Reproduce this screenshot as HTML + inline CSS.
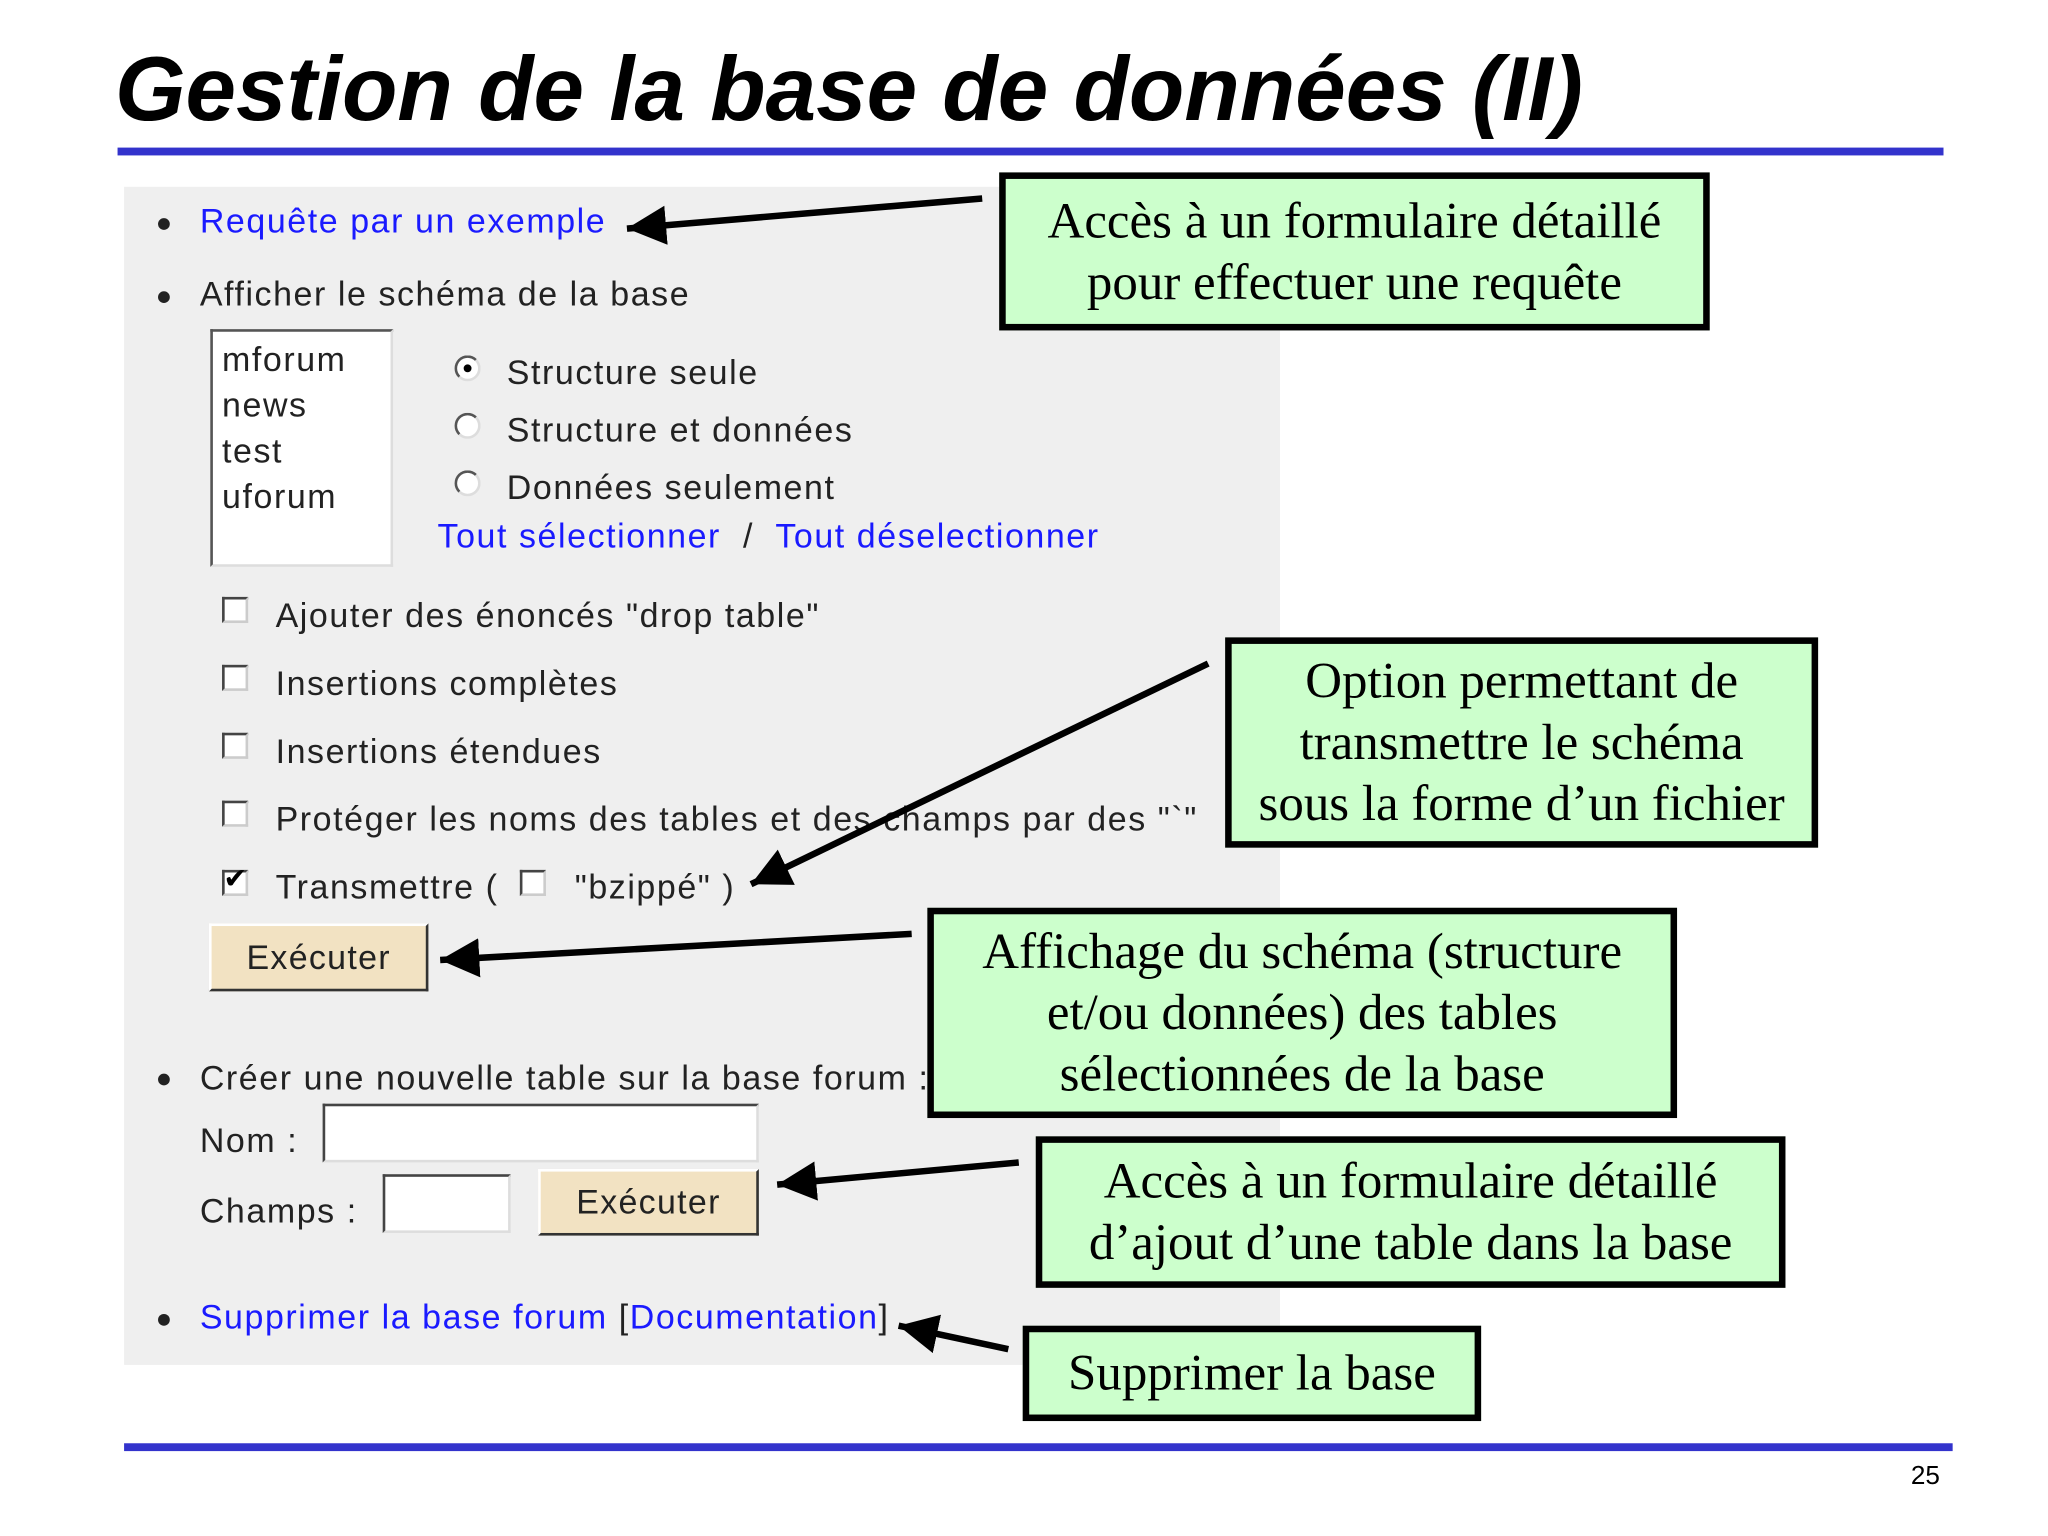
<!DOCTYPE html>
<html><head><meta charset="utf-8"><style>
body{margin:0;background:#fff;width:2048px;height:1536px;overflow:hidden}
#s{position:absolute;left:0;top:0;width:1568px;height:1176px;transform:scale(1.30612);transform-origin:0 0;font-family:"Liberation Sans",sans-serif}
.a{position:absolute;white-space:nowrap}
.f{font-size:26px;color:#222;letter-spacing:1.2px}
.l{color:#1a1aff}
.box{position:absolute;background:#ccffcc;border:5px solid #000;box-sizing:border-box;font-family:"Liberation Serif",serif;font-size:39px;text-align:center;line-height:47px;color:#000;display:flex;align-items:center;justify-content:center}
.cb{position:absolute;width:20px;height:20px;border:2px solid #444;border-right-color:#ccc;border-bottom-color:#ccc;background:#fff;box-sizing:border-box}
.rd{position:absolute;width:20px;height:20px;border-radius:50%;border:2px solid #555;border-right-color:#ddd;border-bottom-color:#ddd;background:#fff;box-sizing:border-box}
.btn{position:absolute;background:#f2e2c2;border:2px solid #fff;border-right-color:#333;border-bottom-color:#333;box-sizing:border-box;font-size:26px;color:#222;text-align:center;letter-spacing:1px}
.dot{position:absolute;width:9px;height:9px;border-radius:50%;background:#222}
</style></head><body><div id="s">
<div class="a" style="left:88px;top:28px;font-size:69.5px;font-weight:bold;font-style:italic;color:#000">Gestion de la base de données (II)</div>
<div class="a" style="left:90px;top:113px;width:1398px;height:6px;background:#3333cc"></div>
<div class="a" style="left:95px;top:143px;width:885px;height:902px;background:#efefef"></div>

<div class="dot" style="left:121px;top:167px"></div>
<div class="a f l" style="left:153px;top:154px">Requête par un exemple</div>
<div class="dot" style="left:121px;top:223px"></div>
<div class="a f" style="left:153px;top:210px">Afficher le schéma de la base</div>
<div class="a" style="left:161px;top:252px;width:140px;height:182px;background:#fff;border:2px solid #555;border-right-color:#ddd;border-bottom-color:#ddd;box-sizing:border-box"></div>
<div class="a f" style="left:170px;top:258px;line-height:35px">mforum<br>news<br>test<br>uforum</div>
<div class="rd" style="left:348px;top:272px"></div><div class="a" style="left:355px;top:279px;width:6px;height:6px;border-radius:50%;background:#000"></div>
<div class="a f" style="left:388px;top:270px">Structure seule</div>
<div class="rd" style="left:348px;top:316px"></div>
<div class="a f" style="left:388px;top:314px">Structure et données</div>
<div class="rd" style="left:348px;top:360px"></div>
<div class="a f" style="left:388px;top:358px">Données seulement</div>
<div class="a f" style="left:335px;top:395px"><span class="l">Tout sélectionner</span> &nbsp;/&nbsp; <span class="l">Tout déselectionner</span></div>
<div class="cb" style="left:170px;top:457px"></div><div class="a f" style="left:211px;top:456px">Ajouter des énoncés "drop table"</div>
<div class="cb" style="left:170px;top:509px"></div><div class="a f" style="left:211px;top:508px">Insertions complètes</div>
<div class="cb" style="left:170px;top:561px"></div><div class="a f" style="left:211px;top:560px">Insertions étendues</div>
<div class="cb" style="left:170px;top:613px"></div><div class="a f" style="left:211px;top:612px">Protéger les noms des tables et des champs par des "`"</div>
<div class="cb" style="left:170px;top:666px"></div><div class="a" style="left:171px;top:660px;font-size:22px;color:#000">✔</div>
<div class="a f" style="left:211px;top:664px">Transmettre (</div>
<div class="cb" style="left:398px;top:666px"></div>
<div class="a f" style="left:440px;top:664px">"bzippé" )</div>
<div class="btn" style="left:160px;top:707px;width:168px;height:52px;line-height:48px">Exécuter</div>
<div class="dot" style="left:121px;top:822px"></div>
<div class="a f" style="left:153px;top:810px">Créer une nouvelle table sur la base forum :</div>
<div class="a f" style="left:153px;top:858px">Nom :</div>
<div class="a" style="left:247px;top:845px;width:334px;height:45px;background:#fff;border:2px solid #444;border-right-color:#ddd;border-bottom-color:#ddd;box-sizing:border-box"></div>
<div class="a f" style="left:153px;top:912px">Champs :</div>
<div class="a" style="left:293px;top:899px;width:98px;height:45px;background:#fff;border:2px solid #444;border-right-color:#ddd;border-bottom-color:#ddd;box-sizing:border-box"></div>
<div class="btn" style="left:412px;top:895px;width:169px;height:51px;line-height:47px">Exécuter</div>
<div class="dot" style="left:121px;top:1006px"></div>
<div class="a f" style="left:153px;top:993px"><span class="l">Supprimer la base forum</span> [<span class="l">Documentation</span>]</div>

<svg class="a" style="left:0;top:0" width="1568" height="1176">
<defs><marker id="m" markerWidth="6" markerHeight="6" refX="6" refY="3" orient="auto" markerUnits="strokeWidth"><path d="M0,0 L6,3 L0,6 Z" fill="#000"/></marker></defs>
<g stroke="#000" stroke-width="5" marker-end="url(#m)">
<line x1="752" y1="152" x2="480" y2="175"/>
<line x1="925" y1="508" x2="575" y2="677"/>
<line x1="698" y1="715" x2="337" y2="735"/>
<line x1="780" y1="890" x2="595" y2="907"/>
<line x1="772" y1="1033" x2="688" y2="1015"/>
</g></svg>

<div class="box" style="left:765px;top:132px;width:544px;height:121px">Accès à un formulaire détaillé<br>pour effectuer une requête</div>
<div class="box" style="left:938px;top:488px;width:454px;height:161px">Option permettant de<br>transmettre le schéma<br>sous la forme d’un fichier</div>
<div class="box" style="left:710px;top:695px;width:574px;height:161px">Affichage du schéma (structure<br>et/ou données) des tables<br>sélectionnées de la base</div>
<div class="box" style="left:793px;top:870px;width:574px;height:116px">Accès à un formulaire détaillé<br>d’ajout d’une table dans la base</div>
<div class="box" style="left:783px;top:1015px;width:351px;height:73px">Supprimer la base</div>

<div class="a" style="left:95px;top:1105px;width:1400px;height:6px;background:#3333cc"></div>
<div class="a" style="left:1463px;top:1119px;font-size:20px;color:#000">25</div>
</div></body></html>
